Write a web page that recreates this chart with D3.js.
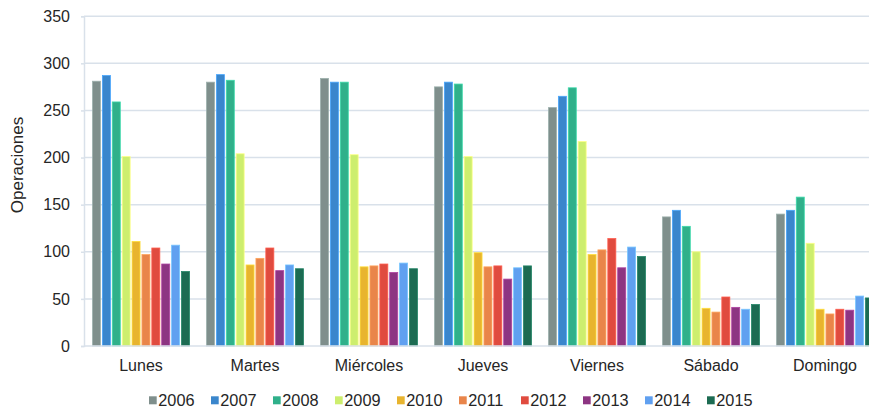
<!DOCTYPE html>
<html>
<head>
<meta charset="utf-8">
<script src="https://cdn.jsdelivr.net/npm/d3@7"></script>
<style>
  html, body { margin: 0; padding: 0; background: #fff; }
  svg { display: block; font-family: "Liberation Sans", Arial, sans-serif; }
</style>
</head>
<body>
<svg id="chart" width="869" height="410"></svg>
<script>
// Operations per weekday, one series per year
const days = ["Lunes", "Martes", "Miércoles", "Jueves", "Viernes", "Sábado", "Domingo"];
const years = ["2006", "2007", "2008", "2009", "2010", "2011", "2012", "2013", "2014", "2015"];
const colors = ["#7f8f8c", "#3a86cc", "#30b08a", "#cdee6e", "#e8b42e", "#e9854a", "#e04b3f", "#8d3582", "#60a0f0", "#1c6b52"];

const v2006 = [281, 280, 284, 275, 253, 137, 140];
const v2007 = [287, 288, 280, 280, 265, 144, 144];
const v2008 = [259, 282, 280, 278, 274, 127, 158];
const v2009 = [201, 204, 203, 201, 217, 100, 109];
const v2010 = [111, 86, 84, 99, 97, 40, 39];
const v2011 = [97, 93, 85, 84, 102, 36, 34];
const v2012 = [104, 104, 87, 85, 114, 52, 39];
const v2013 = [87, 80, 78, 71, 83, 41, 38];
const v2014 = [107, 86, 88, 83, 105, 39, 53];
const v2015 = [79, 82, 82, 85, 95, 44, 51];
const series = [v2006, v2007, v2008, v2009, v2010, v2011, v2012, v2013, v2014, v2015];

const yTicks = [0, 50, 100, 150, 200, 250, 300, 350];

const svg = d3.select("#chart");
const plotLeft = 84, plotBottom = 346, plotTop = 16.2;
const band = 114;

const x0 = d3.scaleBand().domain(days).range([plotLeft, plotLeft + band * days.length]).padding(0);
const x1 = d3.scaleBand().domain(years).range([8.5, band - 8.5]).paddingInner(0.19).paddingOuter(0);
const y = d3.scaleLinear().domain([0, 350]).range([plotBottom, plotTop]);
const color = d3.scaleOrdinal().domain(years).range(colors);

// Horizontal gridlines
svg.append("g")
  .selectAll("line")
  .data(yTicks.filter(t => t > 0))
  .join("line")
  .attr("x1", plotLeft).attr("x2", 869)
  .attr("y1", d => y(d)).attr("y2", d => y(d))
  .attr("stroke", "#d9e1ea").attr("stroke-width", 1.5);

// Y axis
const yAxis = svg.append("g")
  .attr("transform", `translate(${plotLeft},0)`)
  .call(d3.axisLeft(y).tickValues(yTicks).tickSize(3).tickPadding(11));
yAxis.select(".domain").attr("stroke", "#d9e1ea").attr("stroke-width", 1.5);
yAxis.selectAll(".tick line").attr("stroke", "#d9e1ea").attr("stroke-width", 1.5);
yAxis.selectAll(".tick text").attr("font-size", 16).attr("fill", "#262626")
  .attr("font-family", "Liberation Sans, Arial, sans-serif");

// Bars
const groups = svg.append("g")
  .selectAll("g")
  .data(days)
  .join("g")
  .attr("transform", d => `translate(${x0(d)},0)`);

groups.selectAll("rect")
  .data((d, i) => years.map((yr, j) => ({ yr, v: series[j][i] })))
  .join("rect")
  .attr("x", d => x1(d.yr))
  .attr("width", x1.bandwidth())
  .attr("y", d => y(d.v))
  .attr("height", d => y(0) - y(d.v))
  .attr("fill", d => color(d.yr))
  .attr("stroke", d => d3.color(color(d.yr)).brighter(0.6))
  .attr("stroke-width", 0.8);

// X axis baseline and labels
svg.append("line")
  .attr("x1", plotLeft).attr("x2", 869)
  .attr("y1", plotBottom).attr("y2", plotBottom)
  .attr("stroke", "#d9e1ea").attr("stroke-width", 1.5);

svg.append("g")
  .selectAll("text")
  .data(days)
  .join("text")
  .attr("x", d => x0(d) + band / 2)
  .attr("y", 371)
  .attr("text-anchor", "middle")
  .attr("font-size", 16)
  .attr("fill", "#262626")
  .text(d => d);

// Y axis title
svg.append("text")
  .attr("transform", "translate(23,165) rotate(-90)")
  .attr("text-anchor", "middle")
  .attr("font-size", 17)
  .attr("fill", "#262626")
  .text("Operaciones");

// Legend
const legend = svg.append("g")
  .selectAll("g")
  .data(years)
  .join("g")
  .attr("transform", (d, i) => `translate(${149 + i * 62},400)`);
legend.append("rect")
  .attr("x", 0).attr("y", -3.7)
  .attr("width", 7.7).attr("height", 8)
  .attr("fill", d => color(d));
legend.append("text")
  .attr("x", 9.3).attr("y", 6)
  .attr("font-size", 16.3)
  .attr("fill", "#262626")
  .text(d => d);
</script>
</body>
</html>
